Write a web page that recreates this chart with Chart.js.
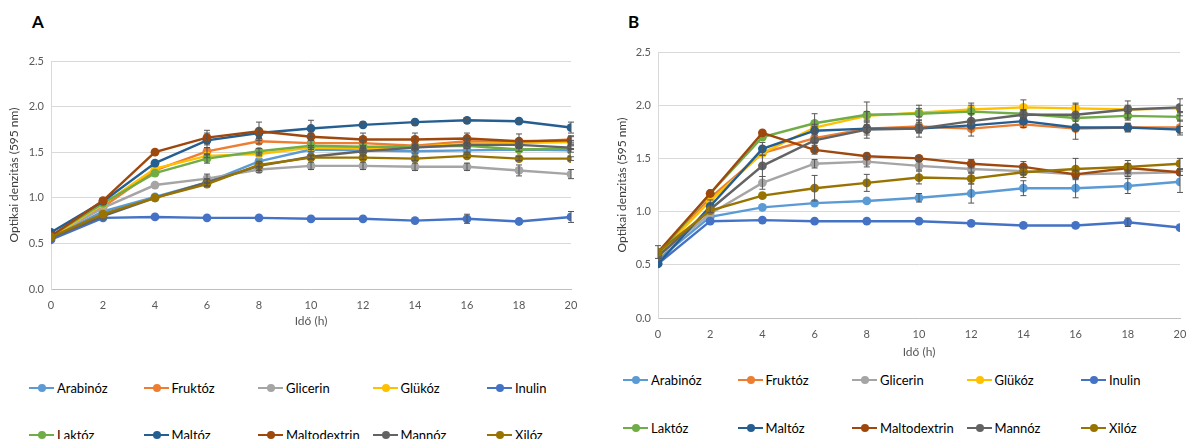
<!DOCTYPE html>
<html>
<head>
<meta charset="utf-8">
<script src="https://cdn.jsdelivr.net/npm/chart.js@4"></script>
<style>
  body { margin: 0; background: #fff; width: 1188px; height: 439px; overflow: hidden; position: relative; font-family: Lato, "Open Sans", sans-serif; }
  .panel { position: absolute; top: 0; }
  .letter { position: absolute; font-size: 17px; font-weight: bold; color: #000; }
  .leg { position: absolute; font-size: 13px; color: #000; white-space: nowrap; display: flex; align-items: center; height: 16px; }
  .leg .mk { position: relative; width: 25px; height: 16px; margin-right: 3px; }
  .leg .mk i { position: absolute; left: 0; right: 0; top: 7px; height: 2px; }
  .leg .mk b { position: absolute; left: 9px; top: 4px; width: 8px; height: 8px; border-radius: 50%; }
</style>
</head>
<body>
<div class="letter" style="left:32px;top:11px">A</div>
<div class="letter" style="left:628px;top:11px">B</div>
<div class="panel" style="left:0;width:595px;height:340px"><canvas id="chartA"></canvas></div>
<div class="panel" style="left:600px;width:588px;height:370px"><canvas id="chartB"></canvas></div>
<div id="legends"></div>
<script>
// Közös adatok
const hours = [0, 2, 4, 6, 8, 10, 12, 14, 16, 18, 20];
const sugars = ['Arabinóz', 'Fruktóz', 'Glicerin', 'Glükóz', 'Inulin', 'Laktóz', 'Maltóz', 'Maltodextrin', 'Mannóz', 'Xilóz'];
const colors = ['#5B9BD5', '#ED7D31', '#A5A5A5', '#FFC000', '#4472C4', '#70AD47', '#255E91', '#9E480E', '#636363', '#997300'];
const yTicks = [0, 0.5, 1, 1.5, 2, 2.5];

// A panel - OD595 értékek
const arabinozA     = [0.56, 0.85, 1.01, 1.17, 1.40, 1.53, 1.52, 1.51, 1.52, 1.53, 1.52];
const fruktozA      = [0.57, 0.90, 1.30, 1.51, 1.62, 1.60, 1.60, 1.57, 1.62, 1.61, 1.64];
const glicerinA     = [0.57, 0.89, 1.14, 1.21, 1.31, 1.35, 1.35, 1.34, 1.34, 1.30, 1.26];
const glukozA       = [0.57, 0.93, 1.32, 1.46, 1.48, 1.55, 1.54, 1.56, 1.59, 1.60, 1.61];
const inulinA       = [0.54, 0.78, 0.79, 0.78, 0.78, 0.77, 0.77, 0.75, 0.77, 0.74, 0.79];
const laktozA       = [0.58, 0.94, 1.27, 1.43, 1.51, 1.57, 1.56, 1.56, 1.57, 1.53, 1.54];
const maltozA       = [0.62, 0.96, 1.38, 1.63, 1.71, 1.76, 1.80, 1.83, 1.85, 1.84, 1.77];
const maltodextrinA = [0.58, 0.97, 1.50, 1.66, 1.73, 1.67, 1.64, 1.64, 1.65, 1.62, 1.63];
const mannozA       = [0.56, 0.80, 1.00, 1.17, 1.35, 1.45, 1.51, 1.55, 1.58, 1.58, 1.55];
const xilozA        = [0.57, 0.82, 1.00, 1.15, 1.36, 1.44, 1.44, 1.43, 1.46, 1.43, 1.43];

// A panel - szórás
const arabinozErrA     = [0, 0, 0, 0, 0, 0.02, 0.02, 0.02, 0.02, 0.02, 0.02];
const fruktozErrA      = [0, 0, 0, 0.04, 0.03, 0.03, 0.03, 0.02, 0.03, 0.03, 0.03];
const glicerinErrA     = [0, 0, 0, 0.05, 0.03, 0.04, 0.04, 0.04, 0.04, 0.06, 0.05];
const glukozErrA       = [0, 0, 0, 0.02, 0.02, 0.02, 0.02, 0.02, 0.02, 0.02, 0.02];
const inulinErrA       = [0, 0, 0, 0, 0, 0, 0, 0, 0.05, 0, 0.06];
const laktozErrA       = [0, 0, 0, 0.05, 0.03, 0, 0, 0, 0, 0, 0];
const maltozErrA       = [0, 0, 0, 0.08, 0.05, 0.09, 0.03, 0.03, 0.02, 0.02, 0.06];
const maltodextrinErrA = [0, 0, 0, 0.08, 0.10, 0.04, 0.07, 0.07, 0.06, 0.08, 0.05];
const mannozErrA       = [0, 0, 0, 0.04, 0.05, 0.02, 0.04, 0.02, 0.02, 0.02, 0.02];
const xilozErrA        = [0, 0, 0, 0.02, 0.02, 0.02, 0.02, 0.02, 0.02, 0.02, 0.02];

// B panel - OD595 értékek
const arabinozB     = [0.55, 0.95, 1.04, 1.08, 1.10, 1.13, 1.17, 1.22, 1.22, 1.24, 1.28];
const fruktozB      = [0.60, 1.13, 1.55, 1.69, 1.78, 1.80, 1.78, 1.82, 1.78, 1.79, 1.79];
const glicerinB     = [0.58, 0.98, 1.27, 1.45, 1.47, 1.43, 1.40, 1.38, 1.35, 1.36, 1.37];
const glukozB       = [0.60, 1.10, 1.55, 1.79, 1.90, 1.93, 1.96, 1.98, 1.97, 1.96, 1.97];
const inulinB       = [0.51, 0.91, 0.92, 0.91, 0.91, 0.91, 0.89, 0.87, 0.87, 0.90, 0.85];
const laktozB       = [0.60, 1.17, 1.70, 1.83, 1.91, 1.92, 1.94, 1.92, 1.88, 1.90, 1.89];
const maltozB       = [0.51, 1.05, 1.59, 1.76, 1.78, 1.78, 1.81, 1.85, 1.79, 1.79, 1.77];
const maltodextrinB = [0.62, 1.17, 1.74, 1.58, 1.52, 1.50, 1.45, 1.42, 1.35, 1.41, 1.37];
const mannozB       = [0.58, 1.02, 1.43, 1.67, 1.77, 1.78, 1.85, 1.91, 1.91, 1.96, 1.98];
const xilozB        = [0.62, 1.01, 1.15, 1.22, 1.27, 1.32, 1.31, 1.37, 1.40, 1.42, 1.45];

// B panel - szórás
const arabinozErrB     = [0, 0, 0, 0, 0, 0.04, 0.09, 0.07, 0.09, 0.07, 0.10];
const fruktozErrB      = [0, 0, 0, 0.04, 0.06, 0.06, 0.07, 0.03, 0.10, 0.04, 0.07];
const glicerinErrB     = [0, 0, 0.06, 0.04, 0.05, 0.04, 0.03, 0.03, 0.03, 0.03, 0.03];
const glukozErrB       = [0, 0, 0, 0.03, 0.04, 0.04, 0.04, 0.07, 0.05, 0.04, 0.03];
const inulinErrB       = [0, 0, 0, 0, 0, 0, 0, 0, 0, 0.04, 0];
const laktozErrB       = [0, 0, 0, 0.09, 0.12, 0.08, 0.08, 0.04, 0.03, 0.04, 0.04];
const maltozErrB       = [0, 0.06, 0.06, 0.04, 0.04, 0.04, 0.03, 0.03, 0.03, 0.04, 0.03];
const maltodextrinErrB = [0.06, 0, 0, 0.04, 0.03, 0.02, 0.04, 0.05, 0.04, 0.04, 0.03];
const mannozErrB       = [0, 0, 0.10, 0.10, 0.08, 0.08, 0.07, 0.04, 0.10, 0.08, 0.08];
const xilozErrB        = [0, 0, 0, 0.12, 0.08, 0.06, 0.05, 0.05, 0.10, 0.06, 0.05];

const seriesA = [arabinozA, fruktozA, glicerinA, glukozA, inulinA, laktozA, maltozA, maltodextrinA, mannozA, xilozA];
const errorsA = [arabinozErrA, fruktozErrA, glicerinErrA, glukozErrA, inulinErrA, laktozErrA, maltozErrA, maltodextrinErrA, mannozErrA, xilozErrA];
const seriesB = [arabinozB, fruktozB, glicerinB, glukozB, inulinB, laktozB, maltozB, maltodextrinB, mannozB, xilozB];
const errorsB = [arabinozErrB, fruktozErrB, glicerinErrB, glukozErrB, inulinErrB, laktozErrB, maltozErrB, maltodextrinErrB, mannozErrB, xilozErrB];

const FONT = 'Lato, "Open Sans", sans-serif';

// hibasávok rajzolása a skálákon keresztül
const errorBarPlugin = {
    id: 'errorBars',
    afterDatasetsDraw(chart) {
        const ctx = chart.ctx;
        const yScale = chart.scales.y;
        ctx.save();
        ctx.strokeStyle = '#555555';
        ctx.lineWidth = 1;
        chart.data.datasets.forEach((ds, i) => {
            const meta = chart.getDatasetMeta(i);
            ds.errors.forEach((e, j) => {
                if (!e) return;
                const pt = meta.data[j];
                const v = ds.data[j].y;
                const yTop = yScale.getPixelForValue(v + e);
                const yBot = yScale.getPixelForValue(v - e);
                ctx.beginPath();
                ctx.moveTo(pt.x, yTop); ctx.lineTo(pt.x, yBot);
                ctx.moveTo(pt.x - 3, yTop); ctx.lineTo(pt.x + 3, yTop);
                ctx.moveTo(pt.x - 3, yBot); ctx.lineTo(pt.x + 3, yBot);
                ctx.stroke();
            });
        });
        ctx.restore();
    }
};

function makeChart(id, series, errors, opt) {
    const datasets = series.map((vals, i) => ({
        label: sugars[i],
        data: vals.map((v, j) => ({ x: hours[j], y: v })),
        errors: errors[i],
        borderColor: colors[i],
        backgroundColor: colors[i],
        borderWidth: 2.4,
        pointRadius: 4.4,
        pointHoverRadius: 4.4,
        pointBorderWidth: 0,
        tension: 0,
        order: sugars.length - 1 - i
    }));
    return new Chart(document.getElementById(id), {
        type: 'line',
        data: { datasets: datasets },
        plugins: [errorBarPlugin],
        options: {
            responsive: true,
            maintainAspectRatio: false,
            animation: false,
            layout: { padding: { top: opt.top, right: opt.right, left: 0, bottom: 0 } },
            plugins: {
                legend: { display: false },
                tooltip: { enabled: false }
            },
            scales: {
                x: {
                    type: 'linear',
                    min: 0, max: 20,
                    afterBuildTicks: s => { s.ticks = hours.map(v => ({ value: v })); },
                    afterFit: s => { s.height = opt.xHeight; s.paddingRight = 0; },
                    grid: { display: false, drawTicks: false },
                    border: { display: true, color: '#BFBFBF', width: 1 },
                    ticks: { padding: 10, color: '#595959', font: { family: FONT, size: 11 }, maxRotation: 0 },
                    title: { display: true, text: 'Idő (h)', color: '#595959', font: { family: FONT, size: 12 }, padding: { top: 0, bottom: opt.xTitlePad } }
                },
                y: {
                    min: 0, max: 2.5,
                    afterBuildTicks: s => { s.ticks = yTicks.map(v => ({ value: v })); },
                    afterFit: s => { s.width = opt.yWidth; },
                    grid: { color: '#D9D9D9', lineWidth: 1, drawTicks: false },
                    border: { display: true, color: '#D9D9D9', width: 1 },
                    ticks: { padding: 7, color: '#595959', font: { family: FONT, size: 11 }, callback: v => v.toFixed(1) },
                    title: { display: true, text: 'Optikai denzitás (595 nm)', color: '#404040', font: { family: FONT, size: 12 }, padding: { top: opt.yTitlePad, bottom: 0 } }
                }
            }
        }
    });
}

makeChart('chartA', seriesA, errorsA, { top: 61, right: 24, xHeight: 51, yWidth: 51, xTitlePad: 12, yTitlePad: 7 });
makeChart('chartB', seriesB, errorsB, { top: 52, right: 8, xHeight: 52, yWidth: 58, xTitlePad: 11, yTitlePad: 15 });

// Jelmagyarázat (Excel-szerű, 5 oszlop)
const legendBoxes = [
    { left: 29, rows: [380, 427] },
    { left: 623, rows: [372, 420] }
];
const legendHost = document.getElementById('legends');
legendBoxes.forEach(box => {
    sugars.forEach((name, i) => {
        const col = i % 5, row = Math.floor(i / 5);
        const el = document.createElement('div');
        el.className = 'leg';
        el.style.left = (box.left + col * 114.5) + 'px';
        el.style.top = box.rows[row] + 'px';
        el.innerHTML = '<span class="mk"><i style="background:' + colors[i] + '"></i><b style="background:' + colors[i] + '"></b></span>' + name;
        legendHost.appendChild(el);
    });
});
</script>
</body>
</html>
